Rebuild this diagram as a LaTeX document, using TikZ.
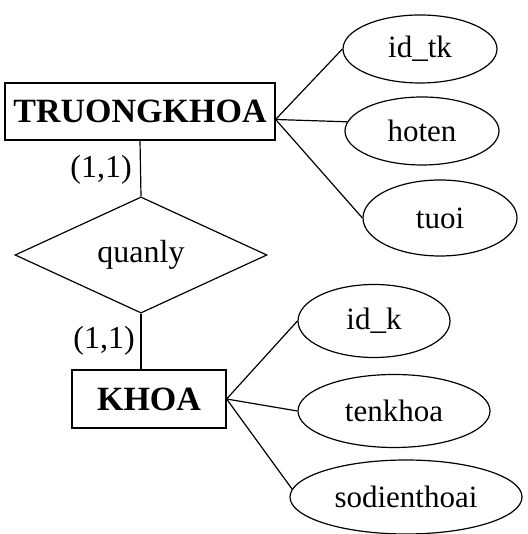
\documentclass[tikz,border=0pt]{standalone}
\usepackage{fontspec}
\setmainfont{Liberation Serif}
\usetikzlibrary{shapes.geometric}

\begin{document}
\begin{tikzpicture}[x=1pt,y=1pt,line width=1.2pt,
	entity/.style={draw,inner sep=0pt,font=\fontsize{34}{34}\selectfont\bfseries},
	attr/.style={draw,ellipse,inner sep=0pt,font=\fontsize{31}{31}\selectfont},
	rel/.style={draw,diamond,inner sep=0pt,font=\fontsize{32}{32}\selectfont},
	card/.style={font=\fontsize{32}{32}\selectfont}]
	\useasboundingbox (0,0) rectangle (527,534);
	% entities
	\node[entity,minimum width=270,minimum height=57] (tk) at (140,422.5) {TRUONGKHOA};
	\node[entity,minimum width=154,minimum height=58] (khoa) at (149,135) {KHOA};
	% relationship
	\node[rel,minimum width=252,minimum height=114] (ql) at (141,279) {quanly};
	% attributes of TRUONGKHOA
	\node[attr,minimum width=154,minimum height=68] (idtk) at (420,485) {id\_tk};
	\node[attr,minimum width=154,minimum height=68] (hoten) at (422,403) {hoten};
	\node[attr,minimum width=154,minimum height=76] (tuoi) at (440,316) {tuoi};
	% attributes of KHOA
	\node[attr,minimum width=152,minimum height=73] (idk) at (374,213) {id\_k};
	\node[attr,minimum width=192,minimum height=73] (tenkhoa) at (394,123) {tenkhoa};
	\node[attr,minimum width=232,minimum height=74] (sdt) at (406,37) {sodienthoai};
	% cardinalities
	\node[card] (c1) at (101,364) {(1,1)};
	\node[card] (c2) at (104,193) {(1,1)};
	% links
	\draw (tk.south) -- (ql.north);
	\draw (ql.south) -- (ql.south |- khoa.north);
	\draw ([yshift=-8pt]tk.east) -- (idtk.west);
	\draw ([yshift=-8pt]tk.east) -- (hoten.173);
	\draw ([yshift=-8pt]tk.east) -- (tuoi.west);
	\draw (khoa.east) -- (idk.west);
	\draw (khoa.east) -- (tenkhoa.west);
	\draw (khoa.east) -- (sdt.176);
\end{tikzpicture}
\end{document}
